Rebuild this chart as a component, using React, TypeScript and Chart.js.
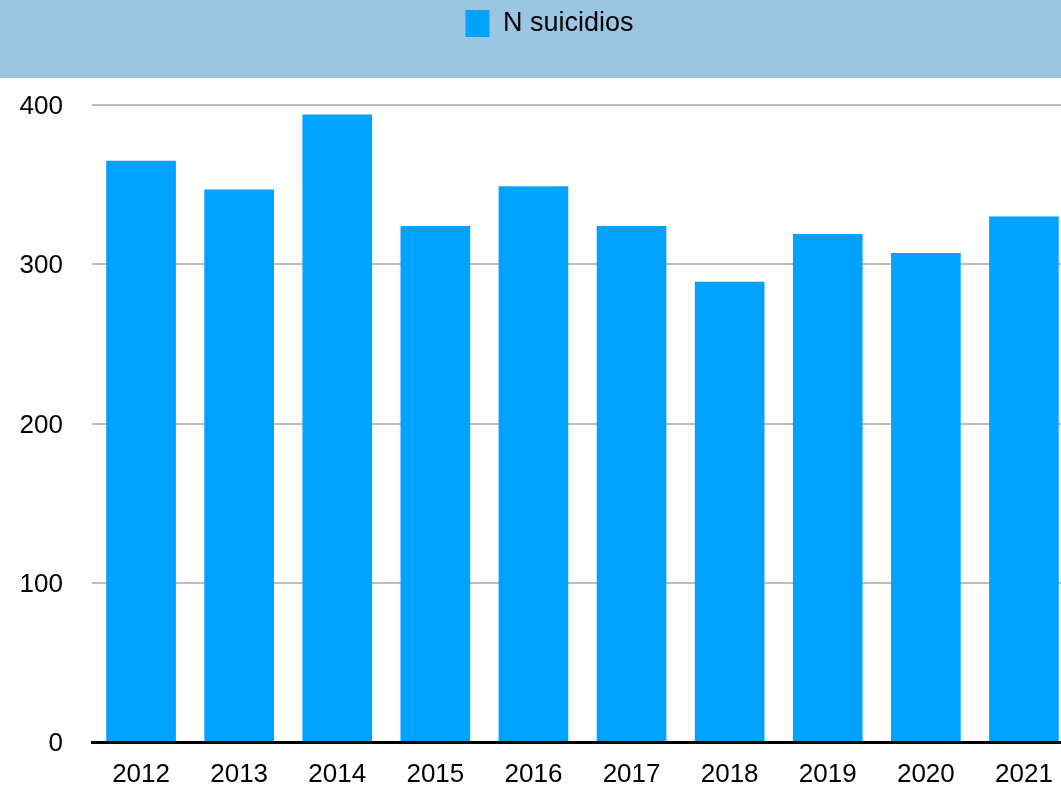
import React, { useEffect, useRef } from "react";
import { Chart, registerables } from "chart.js";

Chart.register(...registerables);

const categories = ["2012", "2013", "2014", "2015", "2016", "2017", "2018", "2019", "2020", "2021"];
const suicidios = [365, 347, 394, 324, 349, 324, 289, 319, 307, 330];
const seriesLabel = "N suicidios";
const yTicks = [0, 100, 200, 300, 400];

const FONT = "'Liberation Sans', Arial, Helvetica, sans-serif";

const bandPlugin = {
  id: "band",
  afterInit(chart: any) {
    const lg = chart.legend;
    if (lg && !lg.__patched) {
      const orig = lg.fit;
      lg.fit = function () {
        orig.call(this);
        this.height = 105;
      };
      lg.__patched = true;
    }
  },
  afterLayout(chart: any) {
    const lg = chart.legend;
    if (lg) {
      lg.left += 13;
      lg.right += 13;
    }
  },
  beforeDraw(chart: any) {
    const ctx = chart.ctx;
    ctx.save();
    ctx.fillStyle = "#9ac6e4";
    ctx.fillRect(0, 0, chart.width, 78);
    ctx.restore();
  },
};

export default function App() {
  const ref = useRef<HTMLCanvasElement | null>(null);
  useEffect(() => {
    if (!ref.current) return;
    const chart = new Chart(ref.current, {
      type: "bar",
      data: {
        labels: categories,
        datasets: [
          {
            label: seriesLabel,
            data: suicidios,
            backgroundColor: "#00a2ff",
            borderWidth: 0,
            categoryPercentage: 0.71,
            barPercentage: 1,
          },
        ],
      },
      plugins: [bandPlugin],
      options: {
        animation: false,
        responsive: false,
        devicePixelRatio: 1,
        layout: { padding: { top: 0, right: 29, left: 0, bottom: 0 } },
        plugins: {
          tooltip: { enabled: false },
          legend: {
            display: true,
            position: "top",
            labels: {
              boxWidth: 24,
              boxHeight: 27,
              color: "#000",
              padding: 10,
              font: { family: FONT, size: 27 },
            },
          },
        },
        scales: {
          x: {
            grid: { display: false, drawTicks: false },
            border: { display: true, color: "#000", width: 3 },
            afterFit: (s: any) => {
              s.height = 45;
            },
            ticks: {
              color: "#000",
              padding: 17,
              font: { family: FONT, size: 26 },
              maxRotation: 0,
              autoSkip: false,
            },
          },
          y: {
            min: 0,
            max: 400,
            afterBuildTicks: (s: any) => {
              s.ticks = yTicks.map((v) => ({ value: v }));
            },
            afterFit: (s: any) => {
              s.width = 92;
            },
            grid: {
              drawTicks: false,
              lineWidth: 2,
              color: (c: any) => (c.tick && c.tick.value === 0 ? "rgba(0,0,0,0)" : "#bdbdbd"),
            },
            border: { display: false },
            ticks: {
              color: "#000",
              padding: 29,
              labelOffset: 2,
              font: { family: FONT, size: 26 },
            },
          },
        },
      },
    });
    return () => chart.destroy();
  }, []);
  return (
    <div
      style={{
        position: "fixed",
        left: 0,
        top: 0,
        width: 1061,
        height: 787,
        overflow: "hidden",
        background: "#fff",
      }}
    >
      <canvas ref={ref} width={1102} height={787} style={{ display: "block" }} />
    </div>
  );
}
